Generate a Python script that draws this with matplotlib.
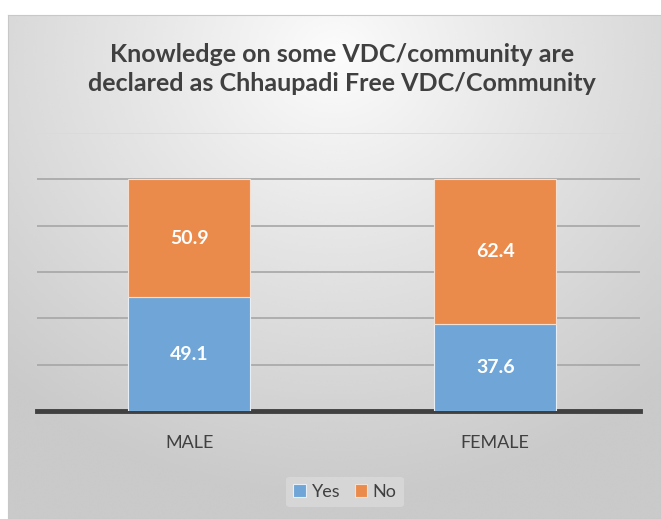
import numpy as np
import matplotlib.pyplot as plt

categories = ['MALE', 'FEMALE']
yes_vals = [49.1, 37.6]
no_vals = [50.9, 62.4]
series_labels = ['Yes', 'No']
title = 'Knowledge on some VDC/community are\ndeclared as Chhaupadi Free VDC/Community'

plt.rcParams['font.family'] = ['Lato', 'DejaVu Sans']

fig = plt.figure(figsize=(6.61, 5.19), dpi=100)

# gradient background inside the chart frame
bg = fig.add_axes([8 / 661, 0, 1 - 8 / 661, 1 - 15 / 519], zorder=-5)
yy, xx = np.mgrid[0:1:300j, 0:1:300j]
r = np.sqrt(((xx - 0.5) * 1.0) ** 2 + ((yy - 0.08) * 0.85) ** 2)
shade = 0.99 - 0.2 * np.clip(r / 0.75, 0, 1) ** 0.9
bg.imshow(shade, cmap='gray', vmin=0, vmax=1, extent=[0, 1, 0, 1],
          aspect='auto', origin='upper', interpolation='bicubic')
for s in bg.spines.values():
    s.set_color('#c8c8c8')
bg.set_xticks([])
bg.set_yticks([])

ax = fig.add_axes([37 / 661, 1 - 411 / 519, 603 / 661, 278 / 519])
ax.patch.set_alpha(0)
x = np.arange(len(categories))
b1 = ax.bar(x, yes_vals, width=0.4, color='#6fa5d7', edgecolor='#e8eef5',
            linewidth=0.8, label=series_labels[0], zorder=3)
b2 = ax.bar(x, no_vals, width=0.4, bottom=yes_vals, color='#eb8b4b',
            edgecolor='#f3e0d3', linewidth=0.8, label=series_labels[1], zorder=3)

for bars, base, vals in [(b1, [0, 0], yes_vals), (b2, yes_vals, no_vals)]:
    for i, v in enumerate(vals):
        ax.text(x[i], base[i] + v / 2, f'{v}', ha='center', va='center',
                color='white', fontsize=14, fontweight='bold', zorder=4)

ax.set_ylim(0, 120)
ax.set_xlim(-0.497, 1.473)
ax.set_yticks([20, 40, 60, 80, 100])
ax.yaxis.grid(True, color='#a6a6a6', linewidth=1.2, zorder=0)
ax.axhline(120, color='#dadada', linewidth=1.2, zorder=0)
ax.tick_params(axis='y', left=False, labelleft=False)
ax.tick_params(axis='x', bottom=False, labelsize=13, labelcolor='#404040', pad=14)
ax.set_xticks(x)
ax.set_xticklabels(categories)
for s in ['top', 'right', 'left']:
    ax.spines[s].set_visible(False)
ax.spines['bottom'].set_color('#404040')
ax.spines['bottom'].set_linewidth(3.5)

fig.text(0.518, 1 - 69 / 519, title, ha='center', va='center', fontsize=18,
         fontweight='bold', color='#404040', linespacing=1.35)

leg = fig.legend(loc='center', bbox_to_anchor=(345 / 661, 1 - 492 / 519), ncol=2,
                 frameon=True, fontsize=13, handlelength=0.7, handleheight=0.7,
                 handletextpad=0.3, columnspacing=0.8, borderpad=0.4)
leg.get_frame().set_facecolor('#dcdcdc')
leg.get_frame().set_edgecolor('none')
leg.get_frame().set_alpha(0.7)
for t in leg.get_texts():
    t.set_color('#404040')

fig.savefig('out.png', dpi=100)
